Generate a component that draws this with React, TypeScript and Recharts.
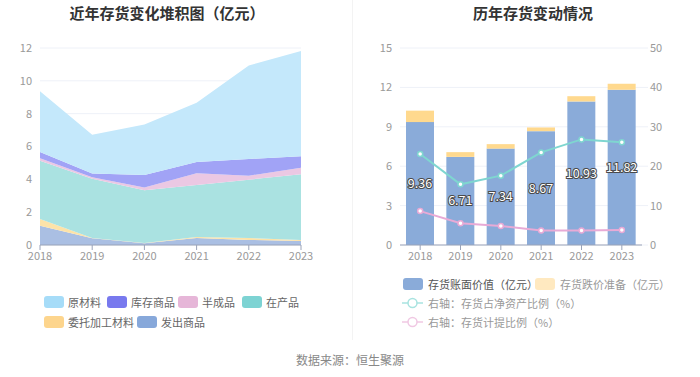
import React from "react";
import {
  AreaChart,
  Area,
  ComposedChart,
  Bar,
  Line,
  XAxis,
  YAxis,
  CartesianGrid,
  LabelList,
} from "recharts";

const years = ["2018", "2019", "2020", "2021", "2022", "2023"];

// Left stacked area (亿元)
const faChuShangPin = [1.18, 0.41, 0.1, 0.43, 0.31, 0.24];
const weiTuoJiaGong = [0.4, 0.02, 0.02, 0.06, 0.12, 0.07];
const zaiChanPin = [3.55, 3.6, 3.21, 3.16, 3.55, 4.0];
const banChengPin = [0.16, 0.1, 0.18, 0.72, 0.24, 0.4];
const kuCunShangPin = [0.38, 0.23, 0.76, 0.69, 1.02, 0.7];
const yuanCaiLiao = [3.69, 2.35, 3.07, 3.61, 5.69, 6.41];

// Right chart
const bookValue = [9.36, 6.71, 7.34, 8.67, 10.93, 11.82];
const impairment = [0.87, 0.36, 0.34, 0.28, 0.4, 0.45];
const netAssetRatio = [23.1, 15.4, 17.6, 23.5, 26.8, 26.1];
const provisionRatio = [8.6, 5.5, 4.8, 3.7, 3.7, 3.8];

const leftTicks = [0, 2, 4, 6, 8, 10, 12];
const rightLeftTicks = [0, 3, 6, 9, 12, 15];
const rightRightTicks = [0, 10, 20, 30, 40, 50];

const areaData = years.map((y, i) => ({
  year: y,
  fc: faChuShangPin[i],
  wt: weiTuoJiaGong[i],
  zc: zaiChanPin[i],
  bc: banChengPin[i],
  kc: kuCunShangPin[i],
  yc: yuanCaiLiao[i],
}));

const barData = years.map((y, i) => ({
  year: y,
  book: bookValue[i],
  imp: impairment[i],
  nar: netAssetRatio[i],
  pr: provisionRatio[i],
}));

const FONT = '"Noto Sans CJK SC", "Noto Sans", sans-serif';
const tickStyle = { fill: "#999", fontSize: 11, fontFamily: FONT };

const areaSeries = [
  { key: "fc", name: "发出商品", fill: "#aabfe3" },
  { key: "wt", name: "委托加工材料", fill: "#fde3a9" },
  { key: "zc", name: "在产品", fill: "#aae2e1" },
  { key: "bc", name: "半成品", fill: "#ebc8e3" },
  { key: "kc", name: "库存商品", fill: "#a1a3f6" },
  { key: "yc", name: "原材料", fill: "#c4e8fb" },
];

const leftLegend = [
  { name: "原材料", color: "#a6dcf8", x: 44, y: 302 },
  { name: "库存商品", color: "#7879ee", x: 107, y: 302 },
  { name: "半成品", color: "#e6b6d8", x: 178, y: 302 },
  { name: "在产品", color: "#7dd3d3", x: 242, y: 302 },
  { name: "委托加工材料", color: "#fdd58d", x: 44, y: 322 },
  { name: "发出商品", color: "#87a8da", x: 137, y: 322 },
];

const BOOK_COLOR = "#8aabd9";
const IMP_COLOR = "#ffd98e";
const TEAL = "#7fd6d0";
const PINK = "#e8aad6";

function RectIcon({ x, y, color }: { x: number; y: number; color: string }) {
  return (
    <div
      style={{
        position: "absolute",
        left: x,
        top: y - 6,
        width: 20,
        height: 12,
        borderRadius: 3,
        background: color,
      }}
    />
  );
}

function LineIcon({ x, y, color }: { x: number; y: number; color: string }) {
  return (
    <svg
      style={{ position: "absolute", left: x, top: y - 6 }}
      width={22}
      height={12}
    >
      <line x1={0} y1={6} x2={21} y2={6} stroke={color} strokeWidth={1.5} />
      <circle cx={10.5} cy={6} r={4.5} fill="#fff" stroke={color} strokeWidth={1.5} />
    </svg>
  );
}

function Txt({
  x,
  y,
  text,
  color,
  size = 11,
}: {
  x: number;
  y: number;
  text: string;
  color: string;
  size?: number;
}) {
  return (
    <div
      style={{
        position: "absolute",
        left: x,
        top: y - size * 0.75,
        fontSize: size,
        lineHeight: `${size * 1.5}px`,
        color,
        fontFamily: FONT,
        whiteSpace: "nowrap",
        height: size * 1.5,
      }}
    >
      {text}
    </div>
  );
}

const dotStyle = (color: string) => ({
  r: 2.5,
  fill: "#fff",
  stroke: color,
  strokeWidth: 1.5,
});

export default function App() {
  return (
    <div
      style={{
        position: "absolute",
        left: 0,
        top: 0,
        width: 700,
        height: 377,
        background: "#fff",
        fontFamily: FONT,
        overflow: "hidden",
      }}
    >
      {/* Titles */}
      <div
        style={{
          position: "absolute",
          left: 0,
          width: 334,
          top: 2,
          textAlign: "center",
          fontSize: 15,
          fontWeight: "bold",
          color: "#333",
          fontFamily: FONT,
        }}
      >
        近年存货变化堆积图（亿元）
      </div>
      <div
        style={{
          position: "absolute",
          left: 433,
          width: 200,
          top: 2,
          textAlign: "center",
          fontSize: 15,
          fontWeight: "bold",
          color: "#333",
          fontFamily: FONT,
        }}
      >
        历年存货变动情况
      </div>
      <div
        style={{
          position: "absolute",
          left: 352,
          top: 0,
          width: 1,
          height: 340,
          background: "#f3f3f3",
        }}
      />

      {/* Left chart */}
      <div style={{ position: "absolute", left: 0, top: 0 }}>
        <AreaChart
          width={320}
          height={270}
          data={areaData}
          margin={{ top: 48, right: 19, bottom: 0, left: 8 }}
        >
          <CartesianGrid vertical={false} stroke="#eef1f8" />
          <XAxis
            dataKey="year"
            tick={tickStyle}
            axisLine={{ stroke: "#9aa3b8" }}
            tickLine={{ stroke: "#9aa3b8" }}
            tickSize={5}
            height={25}
            interval={0}
          />
          <YAxis
            domain={[0, 12]}
            ticks={leftTicks}
            tick={tickStyle}
            axisLine={false}
            tickLine={false}
            width={32}
            interval={0}
          />
          {areaSeries.map((s) => (
            <Area
              key={s.key}
              dataKey={s.key}
              name={s.name}
              stackId="a"
              type="linear"
              stroke="none"
              fill={s.fill}
              fillOpacity={1}
              isAnimationActive={false}
              dot={false}
              activeDot={false}
            />
          ))}
        </AreaChart>
      </div>

      {/* Right chart */}
      <div style={{ position: "absolute", left: 355, top: 0 }}>
        <ComposedChart
          width={345}
          height={270}
          data={barData}
          margin={{ top: 48, right: 18, bottom: 0, left: 15 }}
        >
          <CartesianGrid vertical={false} stroke="#eef1f8" yAxisId="l" />
          <XAxis
            dataKey="year"
            tick={tickStyle}
            axisLine={{ stroke: "#9aa3b8" }}
            tickLine={{ stroke: "#9aa3b8" }}
            tickSize={5}
            height={25}
            interval={0}
          />
          <YAxis
            yAxisId="l"
            domain={[0, 15]}
            ticks={rightLeftTicks}
            tick={tickStyle}
            axisLine={false}
            tickLine={false}
            width={30}
            interval={0}
          />
          <YAxis
            yAxisId="r"
            orientation="right"
            domain={[0, 50]}
            ticks={rightRightTicks}
            tick={tickStyle}
            axisLine={false}
            tickLine={{ stroke: "#eef1f8" }}
            tickSize={6}
            width={40}
            interval={0}
          />
          <Bar
            yAxisId="l"
            dataKey="book"
            stackId="b"
            fill={BOOK_COLOR}
            barSize={28}
            isAnimationActive={false}
          >
            <LabelList
              dataKey="book"
              position="center"
              fill="#fff"
              stroke="#4a4a4a"
              strokeWidth={2}
              style={{ paintOrder: "stroke", fontSize: 12.5, fontFamily: FONT }}
            />
          </Bar>
          <Bar
            yAxisId="l"
            dataKey="imp"
            stackId="b"
            fill={IMP_COLOR}
            barSize={28}
            isAnimationActive={false}
          />
          <Line
            yAxisId="r"
            dataKey="nar"
            type="linear"
            stroke={TEAL}
            strokeWidth={2}
            dot={dotStyle(TEAL)}
            activeDot={false}
            isAnimationActive={false}
          />
          <Line
            yAxisId="r"
            dataKey="pr"
            type="linear"
            stroke={PINK}
            strokeWidth={2}
            dot={dotStyle(PINK)}
            activeDot={false}
            isAnimationActive={false}
          />
        </ComposedChart>
      </div>

      {/* Left legend */}
      {leftLegend.map((l) => (
        <React.Fragment key={l.name}>
          <RectIcon x={l.x} y={l.y} color={l.color} />
          <Txt x={l.x + 24} y={l.y} text={l.name} color="#666" />
        </React.Fragment>
      ))}

      {/* Right legend */}
      <RectIcon x={403} y={284} color={BOOK_COLOR} />
      <Txt x={428} y={284} text="存货账面价值（亿元）" color="#555" />
      <RectIcon x={535} y={284} color="#ffe9c0" />
      <Txt x={560} y={284} text="存货跌价准备（亿元）" color="#999" />
      <LineIcon x={402} y={303} color="#a8e3e0" />
      <Txt x={428} y={303} text="右轴：存货占净资产比例（%）" color="#999" />
      <LineIcon x={402} y={322} color="#f0c8e3" />
      <Txt x={428} y={322} text="右轴：存货计提比例（%）" color="#999" />

      {/* Footer */}
      <div
        style={{
          position: "absolute",
          left: 0,
          width: 700,
          top: 351,
          textAlign: "center",
          fontSize: 12,
          color: "#888",
          fontFamily: FONT,
        }}
      >
        数据来源：恒生聚源
      </div>
    </div>
  );
}
